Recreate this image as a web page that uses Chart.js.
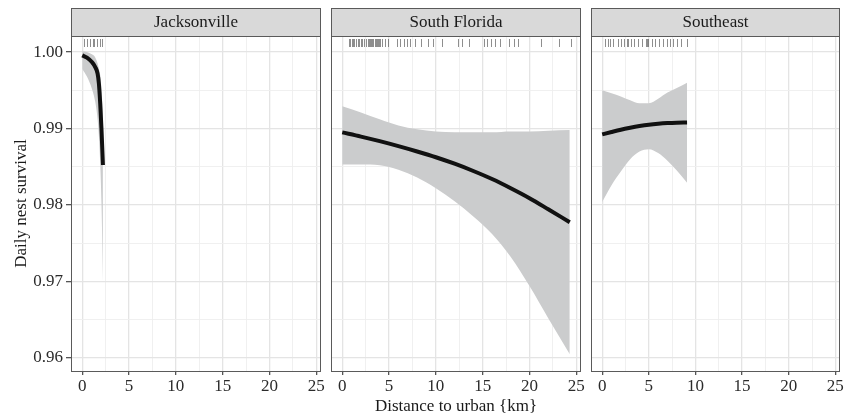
<!DOCTYPE html>
<html>
<head>
<meta charset="utf-8">
<script src="https://cdn.jsdelivr.net/npm/chart.js@4.4.1/dist/chart.umd.min.js"></script>
<style>
  body { margin: 0; background: #fff; width: 845px; height: 418px; position: relative; overflow: hidden; }
  canvas { position: absolute; top: 0; }
</style>
</head>
<body>
<canvas id="c1" width="335" height="418" style="left:0px"></canvas>
<canvas id="c2" width="284" height="418" style="left:311px"></canvas>
<canvas id="c3" width="274" height="418" style="left:571px"></canvas>
<script>
// facet names and axis texts
const panels = ['Jacksonville', 'South Florida', 'Southeast'];
const xTitle = 'Distance to urban {km}';
const yTitle = 'Daily nest survival';

// tick positions (majors labelled, minors only get a grid line)
const xTicks = [0, 2.5, 5, 7.5, 10, 12.5, 15, 17.5, 20, 22.5, 25];
const yTicks = [0.96, 0.965, 0.97, 0.975, 0.98, 0.985, 0.99, 0.995, 1.00];
const xMin = -1.2, xMax = 25.5;
const yMin = 0.9583, yMax = 1.0021;

// Jacksonville
const jaxX   = [0, 0.5, 1.03, 1.39, 1.64, 1.78, 1.92, 2.06, 2.21];
const jaxFit = [0.99957, 0.99927, 0.9987, 0.99804, 0.99718, 0.99588, 0.99327, 0.98979, 0.98523];
const jaxLo  = [0.9978, 0.9968, 0.9952, 0.9935, 0.9912, 0.989, 0.9855, 0.98, 0.97];
const jaxHi  = [1.0001, 1.0, 0.9997, 0.9993, 0.9985, 0.9978, 0.997, 0.995, 0.992];
const jaxRug = [0.2, 0.5, 0.8, 1.1, 1.3, 1.6, 1.85, 2.15];

// South Florida
const sflX   = [0, 2, 4, 6, 8, 10, 12, 14, 16, 18, 20, 22, 24.3];
const sflFit = [0.9895, 0.98895, 0.98835, 0.9877, 0.987, 0.98625, 0.9854, 0.98445, 0.9834, 0.9822, 0.9809, 0.97945, 0.97775];
const sflLo  = [0.9853, 0.9853, 0.9852, 0.9846, 0.9836, 0.9822, 0.9805, 0.9785, 0.9762, 0.9732, 0.9694, 0.9652, 0.9605];
const sflHi  = [0.9929, 0.9921, 0.9912, 0.9904, 0.9899, 0.9896, 0.9895, 0.9895, 0.9895, 0.9896, 0.9896, 0.9897, 0.9898];
const sflRug = [0.7, 0.85, 1.0, 1.15, 1.3, 1.5, 1.65, 1.8, 2.0, 2.15, 2.3, 2.5, 2.7, 2.85, 3.0, 3.1, 3.2,
                3.3, 3.45, 3.6, 3.7, 3.8, 3.9, 4.0, 4.3, 4.6, 4.9, 5.85, 6.2, 6.55, 6.9, 7.25, 7.8, 8.4,
                9.2, 9.65, 10.65, 12.4, 12.8, 13.5, 15.1, 15.5, 15.9, 16.3, 16.9, 17.8, 18.3, 18.8,
                21.2, 23.1, 24.4];

// Southeast
const seX   = [0, 1, 2, 3, 4, 5, 6, 7, 8, 9.1];
const seFit = [0.98923, 0.98955, 0.98985, 0.9901, 0.99032, 0.9905, 0.99063, 0.99072, 0.99077, 0.99079];
const seLo  = [0.9804, 0.9826, 0.9844, 0.986, 0.987, 0.9873, 0.9868, 0.9858, 0.9845, 0.9829];
const seHi  = [0.995, 0.9946, 0.9942, 0.9937, 0.9933, 0.9933, 0.9939, 0.9947, 0.9953, 0.996];
const seRug = [0.3, 0.6, 0.85, 1.2, 1.7, 2.0, 2.3, 2.65, 2.8, 3.1, 3.45, 3.8, 4.25, 4.75, 4.85, 4.95,
               5.3, 5.65, 6.1, 6.55, 6.9, 7.25, 7.6, 8.0, 8.5, 9.1];

const FONT = "'Liberation Serif', 'DejaVu Serif', serif";
Chart.defaults.font.family = FONT;
Chart.defaults.font.size = 17;

const isMajorX = v => Math.abs(v % 5) < 1e-9;
const isMajorY = v => Math.abs(v * 100 - Math.round(v * 100)) < 1e-6;

function pts(xs, ys) {
    return xs.map((x, i) => ({ x: x, y: ys[i] }));
}

// grey strip on top of each panel + the panel frame
const stripPlugin = {
    id: 'strip',
    afterDraw(chart, args, o) {
        const { ctx, chartArea: a } = chart;
        ctx.save();
        ctx.fillStyle = '#d9d9d9';
        ctx.fillRect(a.left, 8, a.right - a.left, a.top - 8);
        ctx.strokeStyle = '#5a5a5a';
        ctx.lineWidth = 1;
        ctx.strokeRect(a.left + 0.5, 8.5, a.right - a.left - 1, a.top - 8);
        ctx.strokeRect(a.left + 0.5, a.top + 0.5, a.right - a.left - 1, a.bottom - a.top);
        ctx.fillStyle = '#1a1a1a';
        ctx.font = '17px ' + FONT;
        ctx.textAlign = 'center';
        ctx.textBaseline = 'middle';
        ctx.fillText(o.text, (a.left + a.right) / 2, (8 + a.top) / 2 + 1);
        ctx.restore();
    }
};

// rug marks along the top edge
const rugPlugin = {
    id: 'rug',
    afterDatasetsDraw(chart, args, o) {
        const { ctx, chartArea: a } = chart;
        const xs = chart.scales.x;
        ctx.save();
        ctx.strokeStyle = 'rgba(30,30,30,0.5)';
        ctx.lineWidth = 1;
        o.values.forEach(v => {
            const px = Math.round(xs.getPixelForValue(v)) + 0.5;
            ctx.beginPath();
            ctx.moveTo(px, a.top + 3);
            ctx.lineTo(px, a.top + 11);
            ctx.stroke();
        });
        ctx.restore();
    }
};

function gridOpts(isMajor, drawTicks, tickLength) {
    return {
        color: c => isMajor(c.tick.value) ? '#e4e4e4' : '#eeeeee',
        lineWidth: c => isMajor(c.tick.value) ? 1.3 : 0.9,
        tickColor: c => isMajor(c.tick.value) ? '#555' : 'rgba(0,0,0,0)',
        drawTicks: drawTicks,
        tickLength: tickLength
    };
}

function panelChart(id, idx, xs, fit, lo, hi, rug, opts) {
    const curve = { pointRadius: 0, cubicInterpolationMode: 'monotone' };
    return new Chart(document.getElementById(id), {
        type: 'line',
        data: {
            datasets: [
                Object.assign({ data: pts(xs, fit), borderColor: '#111', borderWidth: 4, fill: false }, curve),
                Object.assign({ data: pts(xs, hi), borderColor: 'rgba(0,0,0,0)', borderWidth: 0, fill: false }, curve),
                Object.assign({ data: pts(xs, lo), borderColor: 'rgba(0,0,0,0)', borderWidth: 0,
                                fill: '-1', backgroundColor: '#cbcccd' }, curve)
            ]
        },
        options: {
            responsive: false,
            animation: false,
            events: [],
            layout: { padding: opts.padding },
            plugins: {
                legend: { display: false },
                tooltip: { enabled: false },
                strip: { text: panels[idx] },
                rug: { values: rug }
            },
            scales: {
                x: {
                    type: 'linear', min: xMin, max: xMax,
                    afterBuildTicks: s => { s.ticks = xTicks.map(v => ({ value: v })); },
                    afterFit: s => { s.height = 47; s.paddingLeft = 0; s.paddingRight = 0; },
                    grid: gridOpts(isMajorX, true, 4),
                    border: { display: false },
                    ticks: {
                        autoSkip: false, maxRotation: 0, padding: 1, color: '#2b2b2b',
                        callback: v => isMajorX(v) ? String(v) : ''
                    },
                    title: { display: !!opts.xTitle, text: xTitle, color: '#1a1a1a', padding: { top: 0, bottom: 1 } }
                },
                y: {
                    type: 'linear', min: yMin, max: yMax,
                    afterBuildTicks: s => { s.ticks = yTicks.map(v => ({ value: v })); },
                    afterFit: s => { s.width = opts.yWidth; s.paddingTop = 0; s.paddingBottom = 0; },
                    grid: gridOpts(isMajorY, opts.yLabels, 5),
                    border: { display: false },
                    ticks: {
                        display: opts.yLabels, padding: 3, color: '#2b2b2b',
                        callback: v => isMajorY(v) ? v.toFixed(2) : ''
                    },
                    title: { display: opts.yLabels, text: yTitle, color: '#1a1a1a', padding: { top: 11, bottom: 0 } }
                }
            }
        },
        plugins: [stripPlugin, rugPlugin]
    });
}

panelChart('c1', 0, jaxX, jaxFit, jaxLo, jaxHi, jaxRug,
    { padding: { left: 0, right: 14, top: 36, bottom: 0 }, yWidth: 71, yLabels: true, xTitle: false });
panelChart('c2', 1, sflX, sflFit, sflLo, sflHi, sflRug,
    { padding: { left: 20, right: 14, top: 36, bottom: 0 }, yWidth: 0, yLabels: false, xTitle: true });
panelChart('c3', 2, seX, seFit, seLo, seHi, seRug,
    { padding: { left: 20, right: 5, top: 36, bottom: 0 }, yWidth: 0, yLabels: false, xTitle: false });
</script>
</body>
</html>
